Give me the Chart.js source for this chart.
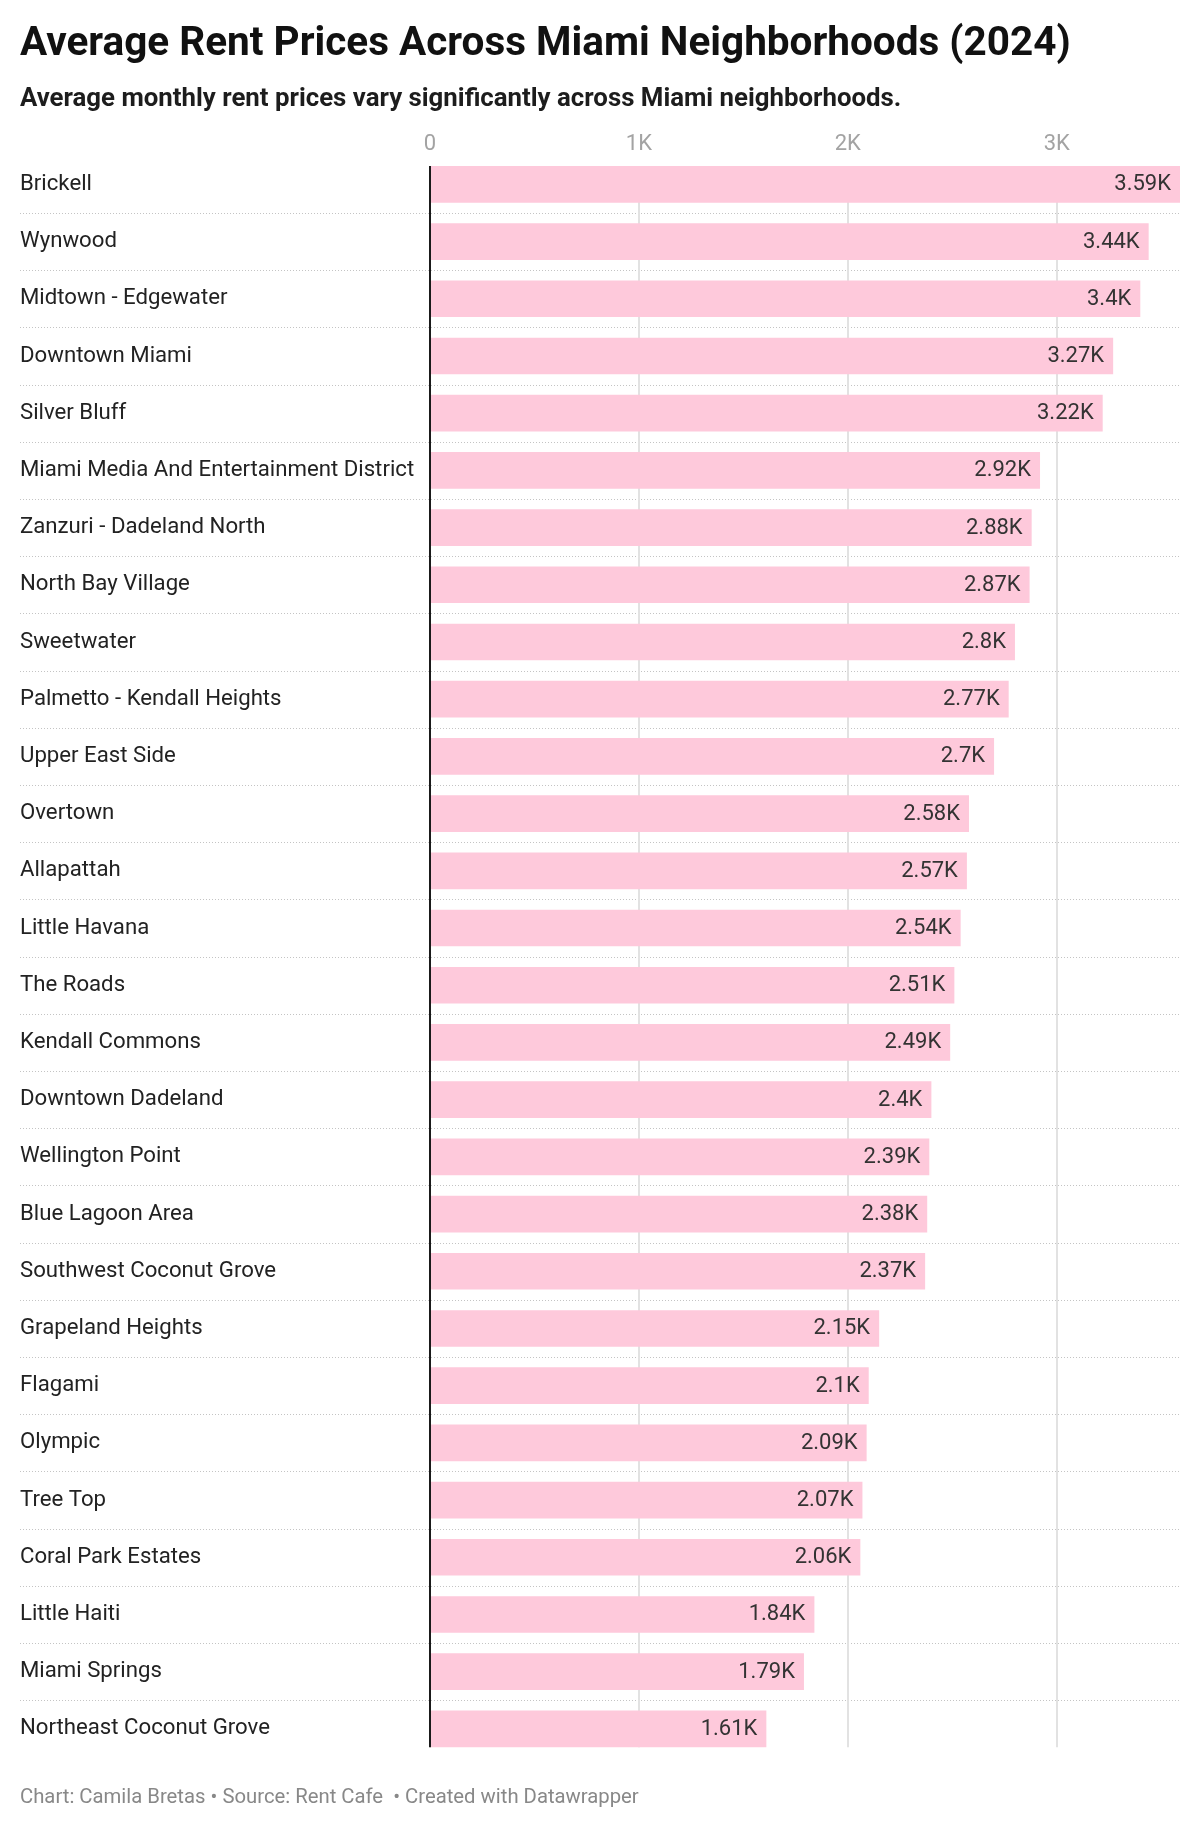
<!DOCTYPE html>
<html>
<head>
<meta charset="utf-8">
<script src="https://cdn.jsdelivr.net/npm/chart.js@4"></script>
<style>
  html, body { margin:0; padding:0; background:#fff; }
  body { width:1200px; height:1827px; position:relative; font-family:Roboto, sans-serif; overflow:hidden; }
  #chart { position:absolute; left:0; top:0; }
  .txt { position:absolute; left:20px; white-space:nowrap; z-index:2; }
  #title { top:21px; font-size:40.5px; line-height:40.5px; font-weight:700; color:#111; }
  #subtitle { top:85px; font-size:25.8px; line-height:25.8px; font-weight:700; color:#1d1d1d; }
  #footer { top:1786px; font-size:20.3px; line-height:20.3px; color:#888; }
</style>
</head>
<body>
<div class="txt" id="title">Average Rent Prices Across Miami Neighborhoods (2024)</div>
<div class="txt" id="subtitle">Average monthly rent prices vary significantly across Miami neighborhoods.</div>
<canvas id="chart" width="1200" height="1827"></canvas>
<div class="txt" id="footer">Chart: Camila Bretas • Source: Rent Cafe&nbsp; • Created with Datawrapper</div>

<script>
// Average rent by neighborhood, 2024 (USD / month)
const neighborhoods = [
  'Brickell', 'Wynwood', 'Midtown - Edgewater', 'Downtown Miami', 'Silver Bluff',
  'Miami Media And Entertainment District', 'Zanzuri - Dadeland North', 'North Bay Village',
  'Sweetwater', 'Palmetto - Kendall Heights', 'Upper East Side', 'Overtown', 'Allapattah',
  'Little Havana', 'The Roads', 'Kendall Commons', 'Downtown Dadeland', 'Wellington Point',
  'Blue Lagoon Area', 'Southwest Coconut Grove', 'Grapeland Heights', 'Flagami', 'Olympic',
  'Tree Top', 'Coral Park Estates', 'Little Haiti', 'Miami Springs', 'Northeast Coconut Grove'
];
const rents = [
  3590, 3440, 3400, 3270, 3220,
  2920, 2880, 2870,
  2800, 2770, 2700, 2580, 2570,
  2540, 2510, 2490, 2400, 2390,
  2380, 2370, 2150, 2100, 2090,
  2070, 2060, 1840, 1790, 1610
];
const xTicks = [0, 1000, 2000, 3000];

Chart.defaults.font.family = 'Roboto';

const fmtK = v => v === 0 ? '0' : (Math.round(v / 10) / 100) + 'K';

// dotted row separators + vertical grid + zero line
const gridPlugin = {
  id: 'dwGrid',
  beforeDatasetsDraw(chart) {
    const { ctx, scales: { x, y }, chartArea } = chart;
    const bars = chart.getDatasetMeta(0).data;
    const top = bars[0].y - bars[0].height / 2;
    const last = bars[bars.length - 1];
    const bottom = last.y + last.height / 2;
    ctx.save();
    ctx.strokeStyle = '#c4c4c4';
    ctx.lineWidth = 1;
    ctx.setLineDash([1, 2]);
    for (let i = 0; i < neighborhoods.length - 1; i++) {
      const yy = Math.round((y.getPixelForValue(i) + y.getPixelForValue(i + 1)) / 2) + 0.5;
      ctx.beginPath(); ctx.moveTo(20, yy); ctx.lineTo(chartArea.right, yy); ctx.stroke();
    }
    ctx.setLineDash([]);
    ctx.strokeStyle = '#e2e2e2';
    ctx.lineWidth = 2;
    xTicks.slice(1).forEach(t => {
      const xx = Math.round(x.getPixelForValue(t));
      ctx.beginPath(); ctx.moveTo(xx, top); ctx.lineTo(xx, bottom); ctx.stroke();
    });
    ctx.restore();
  },
  afterDatasetsDraw(chart) {
    const { ctx, scales: { x } } = chart;
    const bars = chart.getDatasetMeta(0).data;
    const top = bars[0].y - bars[0].height / 2;
    const last = bars[bars.length - 1];
    const bottom = last.y + last.height / 2;
    ctx.save();
    // value labels inside bars
    ctx.font = '22px Roboto';
    ctx.fillStyle = '#333';
    ctx.textAlign = 'right';
    ctx.textBaseline = 'middle';
    bars.forEach((b, i) => ctx.fillText(fmtK(rents[i]), b.x - 9, b.y + 0.5));
    // zero line
    const x0 = Math.round(x.getPixelForValue(0));
    ctx.strokeStyle = '#1a1a1a';
    ctx.lineWidth = 2;
    ctx.beginPath(); ctx.moveTo(x0, top); ctx.lineTo(x0, bottom); ctx.stroke();
    ctx.restore();
  }
};

new Chart(document.getElementById('chart'), {
  type: 'bar',
  data: {
    labels: neighborhoods,
    datasets: [{
      data: rents,
      backgroundColor: '#fec9db',
      borderWidth: 0,
      categoryPercentage: 1,
      barPercentage: 0.641
    }]
  },
  options: {
    indexAxis: 'y',
    responsive: false,
    animation: false,
    devicePixelRatio: 1,
    layout: { padding: { top: 120, left: 20, right: 20, bottom: 69.5 } },
    plugins: { legend: { display: false }, tooltip: { enabled: false } },
    scales: {
      x: {
        position: 'top',
        min: 0, max: 3590,
        afterFit: s => { s.height = 35.75; },
        afterBuildTicks: s => { s.ticks = xTicks.map(v => ({ value: v })); },
        grid: { display: false, drawTicks: false },
        border: { display: false },
        ticks: {
          includeBounds: false,
          padding: 0,
          color: '#a3a3a3',
          font: { size: 22, lineHeight: 1 },
          callback: v => fmtK(v)
        }
      },
      y: {
        afterFit: s => { s.width = 410; },
        grid: { display: false, drawTicks: false },
        border: { display: false },
        ticks: {
          crossAlign: 'far',
          padding: 0,
          color: '#222',
          font: { size: 22.2 }
        }
      }
    }
  },
  plugins: [gridPlugin]
});
</script>
</body>
</html>
